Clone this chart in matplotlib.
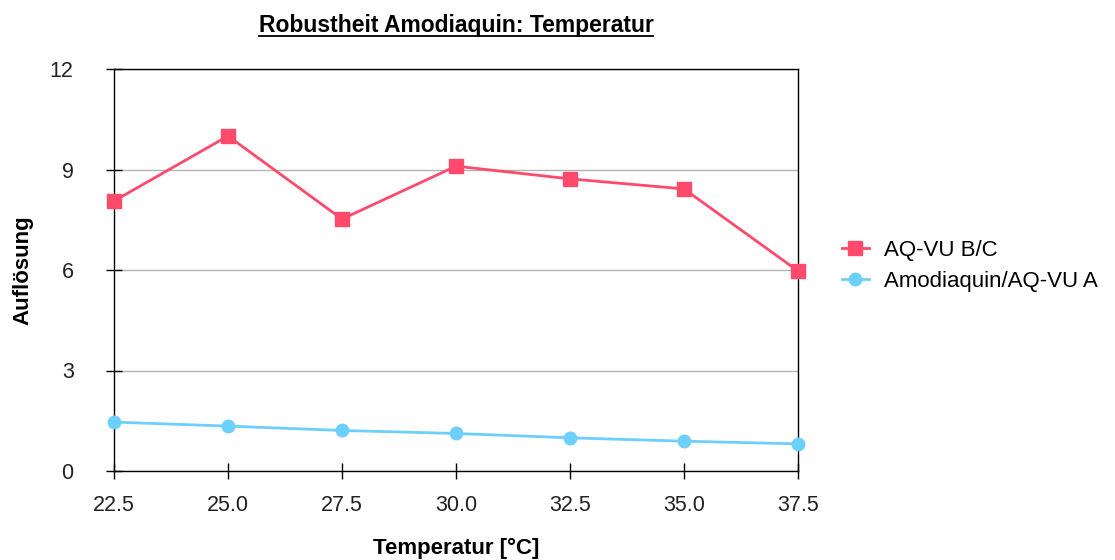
import matplotlib
matplotlib.use("Agg")
import matplotlib.pyplot as plt
from matplotlib.lines import Line2D

temperature = [22.5, 25.0, 27.5, 30.0, 32.5, 35.0, 37.5]
aq_vu_bc = [8.06, 10.0, 7.52, 9.10, 8.72, 8.42, 5.97]
amodiaquin_aq_vu_a = [1.46, 1.34, 1.21, 1.12, 0.99, 0.89, 0.81]
series_names = ["AQ-VU B/C", "Amodiaquin/AQ-VU A"]
y_ticks = [0, 3, 6, 9, 12]
x_tick_labels = ["22.5", "25.0", "27.5", "30.0", "32.5", "35.0", "37.5"]

plt.rcParams['font.family'] = ['Liberation Sans', 'DejaVu Sans']

red = "#FF4A6B"
blue = "#6CD0FB"

fig = plt.figure(figsize=(11.15, 5.6), dpi=100)
ax = fig.add_axes([114/1115, 89/560, (798-114)/1115, (471-69)/560])

ax.plot(temperature, aq_vu_bc, color=red, lw=2, marker='s', ms=10,
        label=series_names[0], zorder=3, clip_on=False)
ax.plot(temperature, amodiaquin_aq_vu_a, color=blue, lw=2, marker='o', ms=9,
        label=series_names[1], zorder=3, clip_on=False)

ax.set_xlim(22.5, 37.5)
ax.set_ylim(0, 12)
ax.set_yticks(y_ticks)
ax.set_xticks(temperature)
ax.set_xticklabels(x_tick_labels)
ax.yaxis.grid(True, color="#b3b3b3", lw=1)
ax.set_axisbelow(True)
for s in ax.spines.values():
    s.set_color("black")
    s.set_linewidth(1)
ax.tick_params(axis='both', direction='inout', length=12, width=1, labelsize=15.5,
               colors='black')
ax.tick_params(axis='x', pad=11)
ax.tick_params(axis='y', pad=23)
for lab in ax.get_xticklabels() + ax.get_yticklabels():
    lab.set_color('#222222')

ax.set_xlabel("Temperatur [°C]", fontsize=16, fontweight='bold', labelpad=16)
ax.set_ylabel("Auflösung", fontsize=16, fontweight='bold', labelpad=12)

leg = ax.legend(loc='center left', bbox_to_anchor=(1.035, 0.51), frameon=False,
                fontsize=16, handlelength=1.2, handletextpad=0.7, labelspacing=0.45)

title = fig.text(0.409, 0.955, "Robustheit Amodiaquin: Temperatur", ha='center',
                 va='center', fontsize=16.5, fontweight='bold')
fig.canvas.draw()
bb = title.get_window_extent().transformed(fig.transFigure.inverted())
fig.add_artist(Line2D([bb.x0, bb.x1], [bb.y0 + 0.002, bb.y0 + 0.002],
                      transform=fig.transFigure, color='black', lw=1.3))

fig.savefig("out.png", dpi=100)
